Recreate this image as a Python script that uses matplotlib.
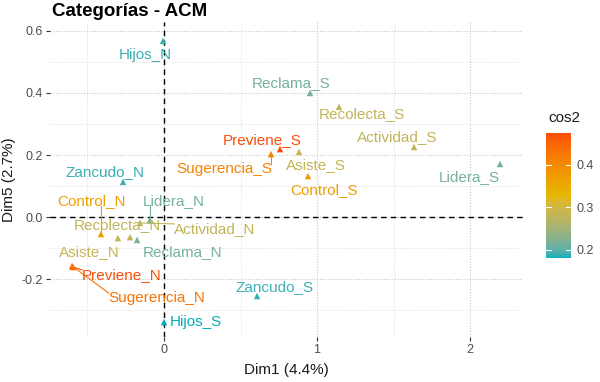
import numpy as np
import matplotlib
matplotlib.use("Agg")
import matplotlib.pyplot as plt
from matplotlib.colors import ListedColormap, Normalize
from matplotlib.ticker import MultipleLocator

plt.rcParams['font.family'] = ['Liberation Sans', 'DejaVu Sans']

# ---------------- data ----------------
categories = ["Hijos_N", "Reclama_S", "Recolecta_S", "Actividad_S", "Lidera_S",
              "Previene_S", "Sugerencia_S", "Asiste_S", "Control_S", "Zancudo_N",
              "Lidera_N", "Control_N", "Recolecta_N", "Actividad_N", "Asiste_N",
              "Reclama_N", "Previene_N", "Sugerencia_N", "Zancudo_S", "Hijos_S"]
dim1 = [-0.007, 0.954, 1.144, 1.634, 2.196,
        0.758, 0.699, 0.882, 0.941, -0.268,
        -0.092, -0.412, -0.222, -0.157, -0.301,
        -0.176, -0.595, -0.601, 0.608, 0.000]
dim5 = [0.568, 0.400, 0.355, 0.226, 0.171,
        0.219, 0.203, 0.210, 0.132, 0.113,
        -0.010, -0.055, -0.065, -0.019, -0.068,
        -0.074, -0.161, -0.158, -0.255, -0.339]
cos2 = [0.19, 0.215, 0.28, 0.28, 0.215,
        0.475, 0.41, 0.285, 0.37, 0.19,
        0.215, 0.37, 0.28, 0.28, 0.285,
        0.215, 0.475, 0.43, 0.19, 0.181]
x_ticks = [0, 1, 2]
y_ticks = [-0.2, 0.0, 0.2, 0.4, 0.6]
cbar_ticks = [0.2, 0.3, 0.4]

# label offsets (pixels, layout only)
label_offsets = [(-18, -14), (-19, 10), (23, -7), (-17, 10), (-31, -13),
                 (-18, 9), (-47, -15), (17, -13), (16, -14), (-18, 10),
                 (24, 19), (-9, 33), (-13, 12), (75, -6), (-29, -14),
                 (45, -12), (49, -8), (85, -32), (18, 9), (32, 0)]

# ---------------- colormap (Lab interpolation) ----------------
def srgb_to_lab(rgb):
    rgb = np.asarray(rgb, float)
    lin = np.where(rgb <= 0.04045, rgb / 12.92, ((rgb + 0.055) / 1.055) ** 2.4)
    M = np.array([[0.4124, 0.3576, 0.1805],
                  [0.2126, 0.7152, 0.0722],
                  [0.0193, 0.1192, 0.9505]])
    xyz = lin @ M.T
    xyz = xyz / np.array([0.95047, 1.0, 1.08883])
    f = np.where(xyz > 0.008856, np.cbrt(xyz), 7.787 * xyz + 16 / 116)
    L = 116 * f[..., 1] - 16
    a = 500 * (f[..., 0] - f[..., 1])
    b = 200 * (f[..., 1] - f[..., 2])
    return np.stack([L, a, b], -1)

def lab_to_srgb(lab):
    L, a, b = lab[..., 0], lab[..., 1], lab[..., 2]
    fy = (L + 16) / 116
    fx = fy + a / 500
    fz = fy - b / 200
    f = np.stack([fx, fy, fz], -1)
    xyz = np.where(f ** 3 > 0.008856, f ** 3, (f - 16 / 116) / 7.787)
    xyz = xyz * np.array([0.95047, 1.0, 1.08883])
    Minv = np.array([[3.2406, -1.5372, -0.4986],
                     [-0.9689, 1.8758, 0.0415],
                     [0.0557, -0.2040, 1.0570]])
    lin = xyz @ Minv.T
    lin = np.clip(lin, 0, 1)
    rgb = np.where(lin <= 0.0031308, 12.92 * lin, 1.055 * lin ** (1 / 2.4) - 0.055)
    return np.clip(rgb, 0, 1)

stops = np.array([[0x00, 0xAF, 0xBB], [0xE7, 0xB8, 0x00], [0xFC, 0x4E, 0x07]]) / 255.0
labs = srgb_to_lab(stops)
t = np.linspace(0, 1, 256)
seg = np.interp(t, [0, 0.5, 1], [0, 1, 2])
cols = []
for s in seg:
    i = min(int(s), 1)
    fr = s - i
    cols.append(labs[i] * (1 - fr) + labs[i + 1] * fr)
cmap = ListedColormap(lab_to_srgb(np.array(cols)))
norm = Normalize(vmin=min(cos2), vmax=max(cos2))

# ---------------- figure ----------------
W, H = 600, 382
fig = plt.figure(figsize=(W / 100, H / 100), dpi=100)
ax = fig.add_axes([50 / W, 45 / H, 473 / W, 315 / H])
ax.set_xlim(-0.745, 2.346)
ax.set_ylim(-0.387, 0.629)

for sp in ax.spines.values():
    sp.set_visible(False)
ax.set_xticks(x_ticks)
ax.set_yticks(y_ticks)
ax.set_yticklabels([f"{v:.1f}" for v in y_ticks])
ax.xaxis.set_minor_locator(MultipleLocator(0.5))
ax.yaxis.set_minor_locator(MultipleLocator(0.1))
ax.grid(which='major', color='#C8C8C8', linestyle=(0, (1, 1.5)), linewidth=0.8)
ax.grid(which='minor', color='#D8D8D8', linestyle=(0, (1, 1.5)), linewidth=0.6)
ax.tick_params(which='major', length=3, color='#333333', labelsize=9,
               labelcolor='#4D4D4D', pad=2)
ax.tick_params(which='minor', length=0)
ax.set_axisbelow(True)

ax.axhline(0, color='black', linestyle=(0, (4, 3)), linewidth=1.0, zorder=2)
ax.axvline(0, color='black', linestyle=(0, (4, 3)), linewidth=1.0, zorder=2)

colors = [cmap(norm(c)) for c in cos2]
ax.scatter(dim1, dim5, marker='^', s=22, c=colors, zorder=4, linewidths=0)

texts = []
for name, x, y, c, off in zip(categories, dim1, dim5, colors, label_offsets):
    tx = ax.annotate(name, (x, y), xytext=off, textcoords='offset pixels',
                     ha='center', va='center', fontsize=11, color=c, zorder=5)
    texts.append(tx)

fig.canvas.draw()
renderer = fig.canvas.get_renderer()
inv = ax.transData.inverted()
for tx, x, y, c in zip(texts, dim1, dim5, colors):
    bb = tx.get_window_extent(renderer)
    px, py = ax.transData.transform((x, y))
    cx = np.clip(px, bb.x0, bb.x1)
    cy = np.clip(py, bb.y0 + 2, bb.y1 - 2)
    d = np.hypot(px - cx, py - cy)
    if d > 9:
        p0 = inv.transform((px, py))
        p1 = inv.transform((cx, cy))
        ax.plot([p0[0], p1[0]], [p0[1], p1[1]], color=c, linewidth=0.8, zorder=3)

ax.set_xlabel("Dim1 (4.4%)", fontsize=11, color='#1A1A1A', labelpad=5)
ax.set_ylabel("Dim5 (2.7%)", fontsize=11, color='#1A1A1A', labelpad=4)

fig.text(52 / W, 1 - 12 / H, "Categorías - ACM", fontsize=13.5, fontweight='bold',
         ha='left', va='center')

# colorbar
cax = fig.add_axes([546 / W, (H - 258) / H, 25 / W, 125 / H])
grad = np.linspace(norm.vmin, norm.vmax, 256).reshape(-1, 1)
cax.imshow(grad, aspect='auto', cmap=cmap, norm=norm, origin='lower',
           extent=[0, 1, norm.vmin, norm.vmax])
cax.set_xlim(0, 1)
cax.set_ylim(norm.vmin, norm.vmax)
for sp in cax.spines.values():
    sp.set_visible(False)
cax.set_xticks([])
cax.yaxis.tick_right()
cax.set_yticks(cbar_ticks)
cax.set_yticklabels([f"{v:.1f}" for v in cbar_ticks])
cax.tick_params(axis='y', length=0, labelsize=9, labelcolor='#4D4D4D', pad=4)
for v in cbar_ticks:
    cax.plot([0, 0.2], [v, v], color='white', linewidth=0.8)
    cax.plot([0.8, 1], [v, v], color='white', linewidth=0.8)
fig.text(548 / W, 1 - 118 / H, "cos2", fontsize=11, ha='left', va='center',
         color='#1A1A1A')

fig.savefig("out.png", dpi=100)
